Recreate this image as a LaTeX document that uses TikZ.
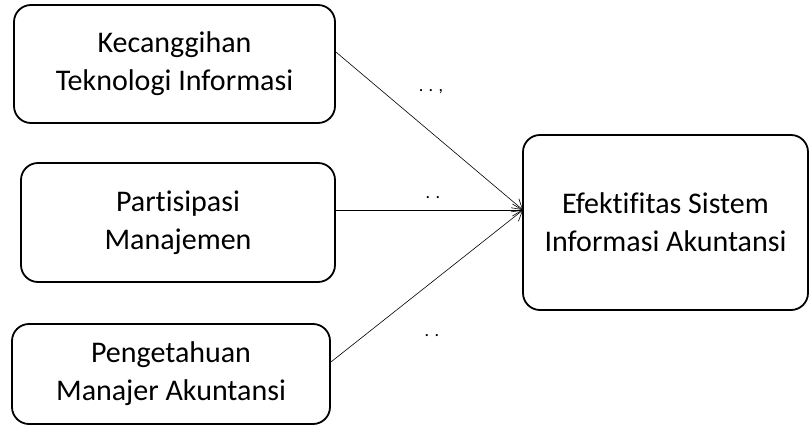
\documentclass[tikz,border=0pt]{standalone}
\usepackage{fontspec}
\setmainfont[Ligatures=NoCommon]{Carlito}
\usetikzlibrary{arrows.meta, positioning}
\tikzset{
  varbox/.style={draw, line width=1.8pt, rounded corners=17pt, align=center,
    font=\fontsize{30}{38}\selectfont, inner sep=0pt},
  link/.style={-{Straight Barb[length=10pt,width=12pt]}, line width=0.6pt},
  tag/.style={font=\fontsize{18}{18}\selectfont, inner sep=0pt}
}
\begin{document}
\begin{tikzpicture}[x=1pt, y=-1pt]
\useasboundingbox (0,0) rectangle (811,425);
%
\node[varbox, minimum width=321pt, minimum height=118pt] (tek) at (174.5,64)
  {Kecanggihan\\Teknologi Informasi};
\node[varbox, minimum width=314pt, minimum height=119pt] (par) at (178,222.5)
  {Partisipasi\\Manajemen};
\node[varbox, minimum width=318pt, minimum height=100pt] (pen) at (171,374)
  {Pengetahuan\\Manajer Akuntansi};
\node[varbox, minimum width=285pt, minimum height=175pt] (efk) at (665.5,222.5)
  {Efektifitas Sistem\\Informasi Akuntansi};
%
\coordinate (hit) at (523,210);
\draw[link] (tek.east |- 0,52) -- (hit);
\draw[link] (par.east |- 0,210) -- (hit);
\draw[link] (pen.east |- 0,362) -- (hit);
%
\node[tag] (t1) at (431,92) {. . ,};
\node[tag] (t2) at (433,198) {. .};
\node[tag] (t3) at (432,336) {. .};
\end{tikzpicture}
\end{document}
